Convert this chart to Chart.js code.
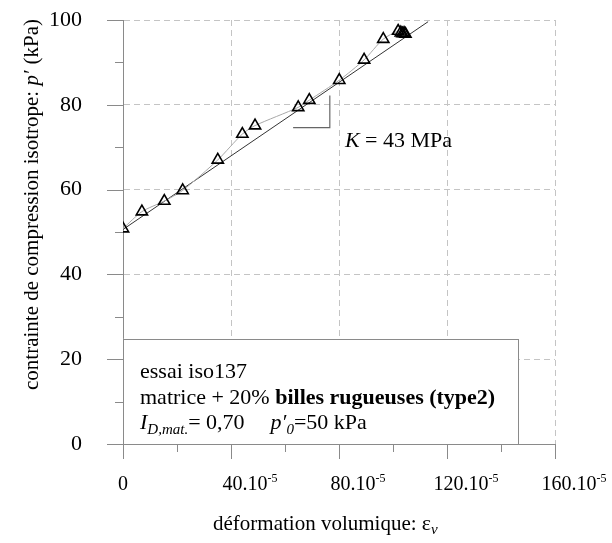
<!DOCTYPE html>
<html>
<head>
<meta charset="utf-8">
<script src="https://cdn.jsdelivr.net/npm/chart.js@4.4.1/dist/chart.umd.min.js"></script>
<style>
  html, body { margin: 0; padding: 0; background: #fff; }
  #wrap { width: 612px; height: 543px; }
</style>
</head>
<body>
<div id="wrap"><canvas id="chart"></canvas></div>
<script>
// volumetric strain (x, in 1e-5 units) vs mean effective stress p' (kPa)
const strainX = [0, 7.0, 15.3, 22.1, 35.1, 44.2, 48.9, 64.9, 69.0, 80.1, 89.3, 96.4, 101.9, 102.9, 103.5, 104.1, 104.6];
const pressureY = [50.8, 54.8, 57.3, 59.8, 67.0, 73.1, 75.1, 79.4, 81.1, 85.8, 90.6, 95.5, 97.4, 97.0, 96.8, 96.9, 96.7];

// linear fit, K = 43 MPa
const fitX = [0, 113];
const fitY = [50.6, 99.6];

// slope marker
const slopeX = [63, 76.6, 76.6];
const slopeY = [74.6, 74.6, 82.2];

const xTickLabels = ['0', '40.10', '80.10', '120.10', '160.10'];
const xTickValues = [0, 40, 80, 120, 160];

const SERIF = '"Liberation Serif", "Times New Roman", serif';
const AXIS_GREY = '#8a8a8a';
const GRID_GREY = '#c4c4c4';

const toPoints = (xs, ys) => xs.map((x, i) => ({ x, y: ys[i] }));

// draws a list of text runs one after another from (x, y)
function drawRuns(ctx, x, y, runs) {
  let cx = x;
  runs.forEach((r) => {
    ctx.font = r.font;
    ctx.fillText(r.t, cx, y + (r.dy || 0));
    cx += ctx.measureText(r.t).width + (r.gap || 0);
  });
  return cx - x;
}

function runsWidth(ctx, runs) {
  let w = 0;
  runs.forEach((r) => {
    ctx.font = r.font;
    w += ctx.measureText(r.t).width + (r.gap || 0);
  });
  return w;
}

const decorations = {
  id: 'decorations',
  afterDraw(chart) {
    const { ctx, chartArea, scales } = chart;
    const xs = scales.x;
    const ys = scales.y;
    ctx.save();

    // tick marks, long at labelled values, short in between
    ctx.strokeStyle = AXIS_GREY;
    ctx.lineWidth = 1;
    ys.ticks.forEach((t) => {
      const py = Math.round(ys.getPixelForValue(t.value)) + 0.5;
      const len = t.value % 20 === 0 ? 16 : 8;
      ctx.beginPath();
      ctx.moveTo(chartArea.left - len, py);
      ctx.lineTo(chartArea.left, py);
      ctx.stroke();
    });
    xs.ticks.forEach((t) => {
      const px = Math.round(xs.getPixelForValue(t.value)) + 0.5;
      const len = t.value % 40 === 0 ? 15 : 8;
      ctx.beginPath();
      ctx.moveTo(px, chartArea.bottom);
      ctx.lineTo(px, chartArea.bottom + len);
      ctx.stroke();
    });

    // x tick labels with the 10^-5 exponent
    ctx.fillStyle = '#000';
    ctx.textBaseline = 'alphabetic';
    ctx.textAlign = 'left';
    xTickValues.forEach((v, i) => {
      const px = xs.getPixelForValue(v);
      const runs = [{ t: xTickLabels[i], font: `20px ${SERIF}` }];
      if (v !== 0) runs.push({ t: '-5', font: `12px ${SERIF}`, dy: -8 });
      const w = runsWidth(ctx, runs);
      const cx = v === 0 ? px - w / 2 : px - w / 2 + 19;
      drawRuns(ctx, cx, 490, runs);
    });

    // x axis title
    const xTitle = [
      { t: 'déformation volumique: ', font: `21px ${SERIF}` },
      { t: 'ε', font: `22px ${SERIF}` },
      { t: 'v', font: `italic 15px ${SERIF}`, dy: 4 },
    ];
    drawRuns(ctx, 213, 530, xTitle);

    // y axis title, rotated
    const yTitle = [
      { t: 'contrainte de compression isotrope: ', font: `21px ${SERIF}` },
      { t: 'p\u2032', font: `italic 21px ${SERIF}`, gap: 6 },
      { t: '(kPa)', font: `21px ${SERIF}` },
    ];
    ctx.save();
    ctx.translate(38, 397);
    ctx.rotate(-Math.PI / 2);
    const yw = runsWidth(ctx, yTitle);
    drawRuns(ctx, (385 - yw) / 2, 0, yTitle);
    ctx.restore();

    // slope annotation
    drawRuns(ctx, xs.getPixelForValue(82.2), ys.getPixelForValue(70), [
      { t: 'K', font: `italic 22px ${SERIF}` },
      { t: ' = 43 MPa', font: `22px ${SERIF}` },
    ]);

    // test info box
    const bx = xs.getPixelForValue(0);
    const bRight = xs.getPixelForValue(146.3);
    const bTop = ys.getPixelForValue(24.8);
    const bBottom = ys.getPixelForValue(0);
    ctx.fillStyle = '#fff';
    ctx.fillRect(bx, bTop, bRight - bx, bBottom - bTop);
    ctx.strokeStyle = AXIS_GREY;
    ctx.strokeRect(Math.round(bx) + 0.5, Math.round(bTop) + 0.5, Math.round(bRight - bx), Math.round(bBottom - bTop));

    ctx.fillStyle = '#000';
    const tx = bx + 17;
    drawRuns(ctx, tx, bTop + 39, [{ t: 'essai iso137', font: `22px ${SERIF}` }]);
    drawRuns(ctx, tx, bTop + 65, [
      { t: 'matrice + 20% ', font: `22px ${SERIF}` },
      { t: 'billes rugueuses (type2)', font: `bold 22px ${SERIF}` },
    ]);
    drawRuns(ctx, tx, bTop + 90, [
      { t: 'I', font: `italic 22px ${SERIF}` },
      { t: 'D,mat.', font: `italic 15px ${SERIF}`, dy: 5 },
      { t: '= 0,70', font: `22px ${SERIF}`, gap: 26 },
      { t: 'p\u2032', font: `italic 22px ${SERIF}` },
      { t: '0', font: `italic 15px ${SERIF}`, dy: 5 },
      { t: '=50 kPa', font: `22px ${SERIF}` },
    ]);

    ctx.restore();
  },
};

new Chart(document.getElementById('chart'), {
  type: 'scatter',
  data: {
    datasets: [
      {
        label: 'iso137',
        data: toPoints(strainX, pressureY),
        showLine: true,
        tension: 0.25,
        borderColor: '#a8a8a8',
        borderWidth: 1,
        pointStyle: 'triangle',
        pointRadius: 6.5,
        pointBorderWidth: 1.6,
        pointBorderColor: '#000',
        pointBackgroundColor: 'rgba(255,255,255,0)',
        order: 1,
      },
      {
        label: 'fit',
        data: toPoints(fitX, fitY),
        showLine: true,
        borderColor: '#333',
        borderWidth: 1,
        pointRadius: 0,
        order: 2,
      },
      {
        label: 'slope',
        data: toPoints(slopeX, slopeY),
        showLine: true,
        borderColor: '#666',
        borderWidth: 1.2,
        pointRadius: 0,
        order: 3,
      },
    ],
  },
  options: {
    responsive: true,
    maintainAspectRatio: false,
    animation: false,
    layout: { padding: { top: 20, right: 57, left: 0, bottom: 0 } },
    plugins: {
      legend: { display: false },
      tooltip: { enabled: false },
    },
    scales: {
      x: {
        type: 'linear',
        min: 0,
        max: 160,
        ticks: { stepSize: 20, display: false },
        grid: {
          drawTicks: false,
          color: (c) => (c.tick && c.tick.value % 40 === 0 && c.tick.value !== 0 ? GRID_GREY : 'rgba(0,0,0,0)'),
          lineWidth: 1,
        },
        border: { display: true, color: AXIS_GREY, width: 1, dash: [6, 4] },
        afterFit: (s) => {
          s.height = 99;
          s.paddingLeft = 0;
          s.paddingRight = 0;
        },
      },
      y: {
        type: 'linear',
        min: 0,
        max: 100,
        ticks: {
          stepSize: 10,
          padding: 41,
          color: '#000',
          font: { family: SERIF, size: 22 },
          callback: (v) => (v % 20 === 0 ? String(v) : ''),
        },
        grid: {
          drawTicks: false,
          color: (c) => (c.tick && c.tick.value % 20 === 0 && c.tick.value !== 0 ? GRID_GREY : 'rgba(0,0,0,0)'),
          lineWidth: 1,
        },
        border: { display: true, color: AXIS_GREY, width: 1, dash: [6, 4] },
        afterFit: (s) => {
          s.width = 123;
          s.paddingTop = 0;
          s.paddingBottom = 0;
        },
      },
    },
  },
  plugins: [decorations],
});
</script>
</body>
</html>
